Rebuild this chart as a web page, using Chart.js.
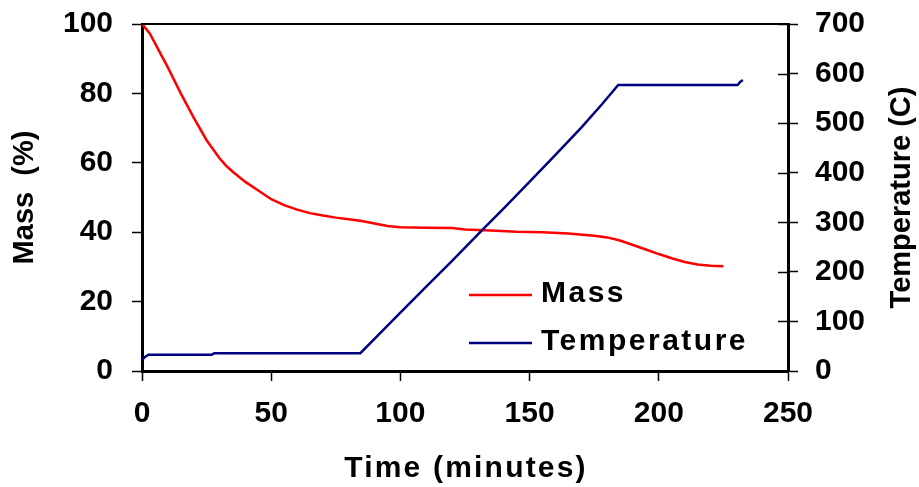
<!DOCTYPE html>
<html><head><meta charset="utf-8">
<script src="https://cdn.jsdelivr.net/npm/chart.js@4.4.1/dist/chart.umd.min.js"></script>
<style>html,body{margin:0;padding:0;background:#fff}#wrap{width:919px;height:487px}</style>
</head><body><div id="wrap"><canvas id="c" width="919" height="487"></canvas></div>
<script>
// ---- data ----
const massTime = [0, 3, 5, 10, 15, 20, 25, 30, 32.5, 35, 40, 45, 50, 55, 60, 65, 70, 75, 80, 85, 90, 95, 100, 110, 120, 125, 135, 145, 155, 165, 175, 180, 185, 190, 195, 200, 205, 210, 215, 220, 225];
const massPct  = [100, 97.3, 94.5, 87.5, 80, 73, 66.5, 61.3, 59.2, 57.5, 54.5, 52, 49.5, 47.8, 46.5, 45.5, 44.8, 44.2, 43.7, 43.2, 42.5, 41.8, 41.4, 41.3, 41.2, 40.8, 40.5, 40.1, 40.0, 39.6, 39.0, 38.5, 37.6, 36.3, 35.0, 33.7, 32.5, 31.4, 30.7, 30.3, 30.2];
const tempTime = [0, 1, 2.5, 27, 28, 84.5, 91.5, 100, 110, 120, 132, 140, 150.6, 160, 170, 178, 184.3, 230.5, 231.5, 232.5];
const tempC    = [22, 28, 33, 33, 36, 36, 73, 118, 170, 222, 286, 328, 385, 436, 491, 538, 577, 577, 583, 587];
const seriesNames = ['Mass', 'Temperature'];
const seriesColors = ['#ff0000', '#000080'];
const xTitle = 'Time (minutes)';
const yLeftTitle = 'Mass  (%)';
const yRightTitle = 'Temperature (C)';
const xTickStep = 50, yLeftStep = 20, yRightStep = 100;

const FONT = '"Liberation Sans", Arial, Helvetica, sans-serif';
Chart.defaults.font.family = FONT;
Chart.defaults.color = '#000';

const massData = massTime.map((t, i) => ({x: t, y: massPct[i]}));
const tempData = tempTime.map((t, i) => ({x: t, y: tempC[i]}));

const extras = {
  id: 'extras',
  afterDraw(chart) {
    const {ctx, chartArea: a, scales} = chart;
    ctx.save();
    // top frame line
    ctx.strokeStyle = '#000';
    ctx.lineWidth = 2;
    ctx.beginPath(); ctx.moveTo(a.left, a.top); ctx.lineTo(a.right, a.top); ctx.stroke();
    // inner part of right-axis ticks
    ctx.lineWidth = 1.5;
    scales.y1.ticks.forEach(t => {
      const y = Math.round(scales.y1.getPixelForValue(t.value)) + 0.5;
      ctx.beginPath(); ctx.moveTo(a.right - 10, y); ctx.lineTo(a.right, y); ctx.stroke();
    });
    ctx.fillStyle = '#000';
    // x title
    ctx.font = 'bold 30px ' + FONT;
    ctx.letterSpacing = '2.2px';
    ctx.textAlign = 'center';
    ctx.textBaseline = 'alphabetic';
    ctx.fillText(xTitle, (a.left + a.right) / 2 + 1, a.bottom + 106);
    // right title, reading bottom to top
    ctx.letterSpacing = '0px';
    ctx.save();
    ctx.translate(chart.width - 17, (a.top + a.bottom) / 2);
    ctx.rotate(-Math.PI / 2);
    ctx.font = 'bold 29px ' + FONT;
    ctx.textBaseline = 'middle';
    ctx.fillText(yRightTitle, 0, 0);
    ctx.restore();
    // legend
    ctx.letterSpacing = '2.5px';
    ctx.font = 'bold 30px ' + FONT;
    ctx.textAlign = 'left';
    ctx.lineWidth = 2.5;
    seriesNames.forEach((name, i) => {
      const ly = a.top + 271 + i * 48;
      ctx.strokeStyle = seriesColors[i];
      ctx.beginPath(); ctx.moveTo(a.left + 327, ly); ctx.lineTo(a.left + 390, ly); ctx.stroke();
      ctx.fillText(name, a.left + 399, ly + 7);
    });
    ctx.restore();
  }
};

function noOverflow(s) { s.paddingTop = 0; s.paddingBottom = 0; s.paddingLeft = 0; s.paddingRight = 0; }

new Chart(document.getElementById('c'), {
  type: 'line',
  data: {
    datasets: [
      {label: seriesNames[0], data: massData, yAxisID: 'y', borderColor: seriesColors[0], borderWidth: 2.5, pointRadius: 0, tension: 0, fill: false, order: 2},
      {label: seriesNames[1], data: tempData, yAxisID: 'y1', borderColor: seriesColors[1], borderWidth: 2.5, pointRadius: 0, tension: 0, fill: false, order: 1}
    ]
  },
  options: {
    responsive: false,
    animation: false,
    layout: {padding: {top: 24, left: 0, right: 0, bottom: 0}},
    plugins: {legend: {display: false}, tooltip: {enabled: false}},
    scales: {
      x: {
        type: 'linear', min: 0, max: 250,
        ticks: {stepSize: xTickStep, font: {size: 30, weight: 'bold'}, padding: 15, color: '#000', maxRotation: 0},
        grid: {display: true, drawOnChartArea: false, drawTicks: true, tickLength: 10, tickColor: '#000', tickWidth: 1.5},
        border: {display: true, color: '#000', width: 3},
        afterFit(s) { s.height = 116; noOverflow(s); }
      },
      y: {
        type: 'linear', position: 'left', min: 0, max: 100,
        ticks: {stepSize: yLeftStep, font: {size: 30, weight: 'bold'}, padding: 19, color: '#000'},
        grid: {display: true, drawOnChartArea: false, drawTicks: true, tickLength: 10, tickColor: '#000', tickWidth: 1.5},
        border: {display: true, color: '#000', width: 3},
        title: {display: true, text: yLeftTitle, font: {size: 29, weight: 'bold'}, color: '#000', padding: {top: 8, bottom: 0}},
        afterFit(s) { s.width = 142; noOverflow(s); }
      },
      y1: {
        type: 'linear', position: 'right', min: 0, max: 700,
        ticks: {stepSize: yRightStep, font: {size: 30, weight: 'bold'}, padding: 17, color: '#000'},
        grid: {display: true, drawOnChartArea: false, drawTicks: true, tickLength: 10, tickColor: '#000', tickWidth: 1.5},
        border: {display: true, color: '#000', width: 3},
        title: {display: false},
        afterFit(s) { s.width = 131; noOverflow(s); }
      }
    }
  },
  plugins: [extras]
});
</script>
</body></html>
